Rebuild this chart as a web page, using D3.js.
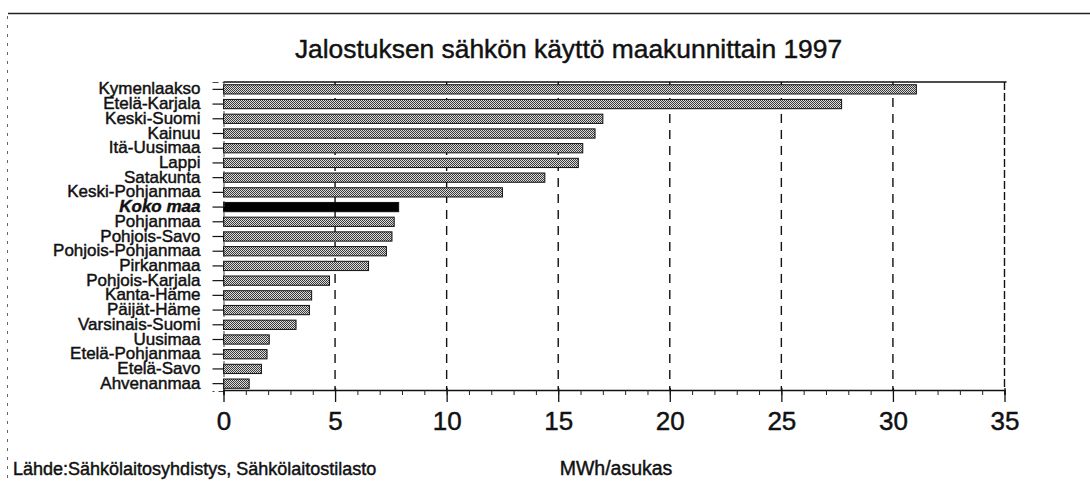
<!DOCTYPE html>
<html>
<head>
<meta charset="utf-8">
<script src="https://cdn.jsdelivr.net/npm/d3@7"></script>
<style>
  html, body { margin: 0; padding: 0; background: #fff; }
  svg { display: block; font-family: "Liberation Sans", Arial, Helvetica, sans-serif; }
  .ink { stroke: #111; stroke-width: 0.45px; paint-order: fill; }
</style>
</head>
<body>
<svg id="chart" width="1090" height="484"></svg>
<script>
// Industrial electricity use per inhabitant by region, 1997 (MWh/asukas)
const categories = [
  "Kymenlaakso", "Etelä-Karjala", "Keski-Suomi", "Kainuu", "Itä-Uusimaa",
  "Lappi", "Satakunta", "Keski-Pohjanmaa", "Koko maa", "Pohjanmaa",
  "Pohjois-Savo", "Pohjois-Pohjanmaa", "Pirkanmaa", "Pohjois-Karjala",
  "Kanta-Häme", "Päijät-Häme", "Varsinais-Suomi", "Uusimaa",
  "Etelä-Pohjanmaa", "Etelä-Savo", "Ahvenanmaa"
];
const values = [
  31.05, 27.7, 17.0, 16.65, 16.1,
  15.9, 14.4, 12.5, 7.85, 7.65,
  7.55, 7.3, 6.5, 4.75,
  3.95, 3.85, 3.25, 2.05,
  1.95, 1.7, 1.15
];
const totalCategory = "Koko maa";
const xTickValues = [0, 5, 10, 15, 20, 25, 30, 35];
const minorTickValues = d3.range(0, 36, 1);
const titleText = "Jalostuksen sähkön käyttö maakunnittain 1997";
const unitText = "MWh/asukas";
const sourceText = "Lähde:Sähkölaitosyhdistys, Sähkölaitostilasto";

const data = categories.map((c, i) => ({ name: c, value: values[i] }));

const svg = d3.select("#chart");

// page edges: top rule and dotted left margin
svg.append("line").attr("x1", 8).attr("x2", 1090).attr("y1", 13.5).attr("y2", 13.5)
  .attr("stroke", "#222").attr("stroke-width", 1.3);
svg.append("line").attr("x1", 7.5).attr("x2", 7.5).attr("y1", 16).attr("y2", 484)
  .attr("stroke", "#666").attr("stroke-width", 1).attr("stroke-dasharray", "3,6");

const x = d3.scaleLinear().domain([0, 35]).range([223.5, 1004.5]);
const y = d3.scaleBand().domain(categories).range([82, 391])
  .paddingInner(0.37).paddingOuter(0.185);

// dotted fill for the bars
const defs = svg.append("defs");
const pat = defs.append("pattern").attr("id", "dots")
  .attr("width", 2).attr("height", 2).attr("patternUnits", "userSpaceOnUse");
pat.append("rect").attr("width", 2).attr("height", 2).attr("fill", "#dcdcdc");
pat.append("rect").attr("x", 0).attr("y", 0).attr("width", 1).attr("height", 1).attr("fill", "#3a3a3a");
pat.append("rect").attr("x", 1).attr("y", 1).attr("width", 1).attr("height", 1).attr("fill", "#3a3a3a");

// title
svg.append("text").attr("class", "ink").attr("x", 568.5).attr("y", 58)
  .attr("text-anchor", "middle").attr("font-size", 26.4).attr("fill", "#111")
  .text(titleText);

// dashed gridlines
svg.append("g").selectAll("line")
  .data(xTickValues.filter(v => v > 0 && v < 35))
  .join("line")
  .attr("x1", d => x(d)).attr("x2", d => x(d))
  .attr("y1", 82).attr("y2", 390)
  .attr("stroke", "#111").attr("stroke-width", 1.4)
  .attr("stroke-dasharray", "9,7");

// plot frame: top and right
svg.append("line").attr("x1", x(0)).attr("x2", x(35) + 2).attr("y1", 82).attr("y2", 82)
  .attr("stroke", "#111").attr("stroke-width", 1.4);
svg.append("line").attr("x1", x(35)).attr("x2", x(35)).attr("y1", 82).attr("y2", 390)
  .attr("stroke", "#111").attr("stroke-width", 1.4).attr("stroke-dasharray", "8,3");

// bars
svg.append("g").selectAll("rect")
  .data(data)
  .join("rect")
  .attr("x", x(0))
  .attr("y", d => y(d.name))
  .attr("width", d => x(d.value) - x(0))
  .attr("height", y.bandwidth())
  .attr("fill", d => d.name === totalCategory ? "#000" : "url(#dots)")
  .attr("stroke", "#111").attr("stroke-width", 1);

// category axis
const yAxis = svg.append("g").attr("transform", `translate(${x(0)},0)`)
  .call(d3.axisLeft(y).tickSize(11).tickPadding(12));
yAxis.select(".domain").attr("stroke", "#444").attr("stroke-width", 1)
  .attr("stroke-dasharray", "6,4");
yAxis.selectAll(".tick line").attr("stroke", "#111").attr("stroke-width", 1.2);
yAxis.selectAll(".tick text")
  .attr("class", "ink")
  .attr("font-family", "Liberation Sans, Arial, sans-serif")
  .attr("font-size", 17).attr("fill", "#111")
  .attr("dy", "0.3em")
  .attr("font-weight", d => d === totalCategory ? "bold" : null)
  .attr("font-style", d => d === totalCategory ? "italic" : null);

// value axis: minor ticks, major ticks and labels
const xAxisY = 390;
const minorAxis = svg.append("g").attr("transform", `translate(0,${xAxisY})`)
  .call(d3.axisBottom(x).tickValues(minorTickValues).tickSize(5).tickFormat(""));
minorAxis.select(".domain").attr("stroke", "#111").attr("stroke-width", 1.5);
minorAxis.selectAll(".tick line").attr("stroke", "#222").attr("stroke-width", 1);

const majorAxis = svg.append("g").attr("transform", `translate(0,${xAxisY})`)
  .call(d3.axisBottom(x).tickValues(xTickValues).tickSize(12).tickPadding(10).tickFormat(d3.format("d")));
majorAxis.select(".domain").remove();
majorAxis.selectAll(".tick line").attr("y1", -2).attr("stroke", "#111").attr("stroke-width", 1.3);
majorAxis.selectAll(".tick text")
  .attr("class", "ink")
  .attr("font-family", "Liberation Sans, Arial, sans-serif")
  .attr("font-size", 26).attr("fill", "#111");

// unit and source
svg.append("text").attr("class", "ink").attr("x", 616).attr("y", 475)
  .attr("text-anchor", "middle").attr("font-size", 19.5).attr("fill", "#111")
  .text(unitText);
svg.append("text").attr("class", "ink").attr("x", 13).attr("y", 475)
  .attr("font-size", 18).attr("fill", "#111")
  .text(sourceText);
</script>
</body>
</html>
